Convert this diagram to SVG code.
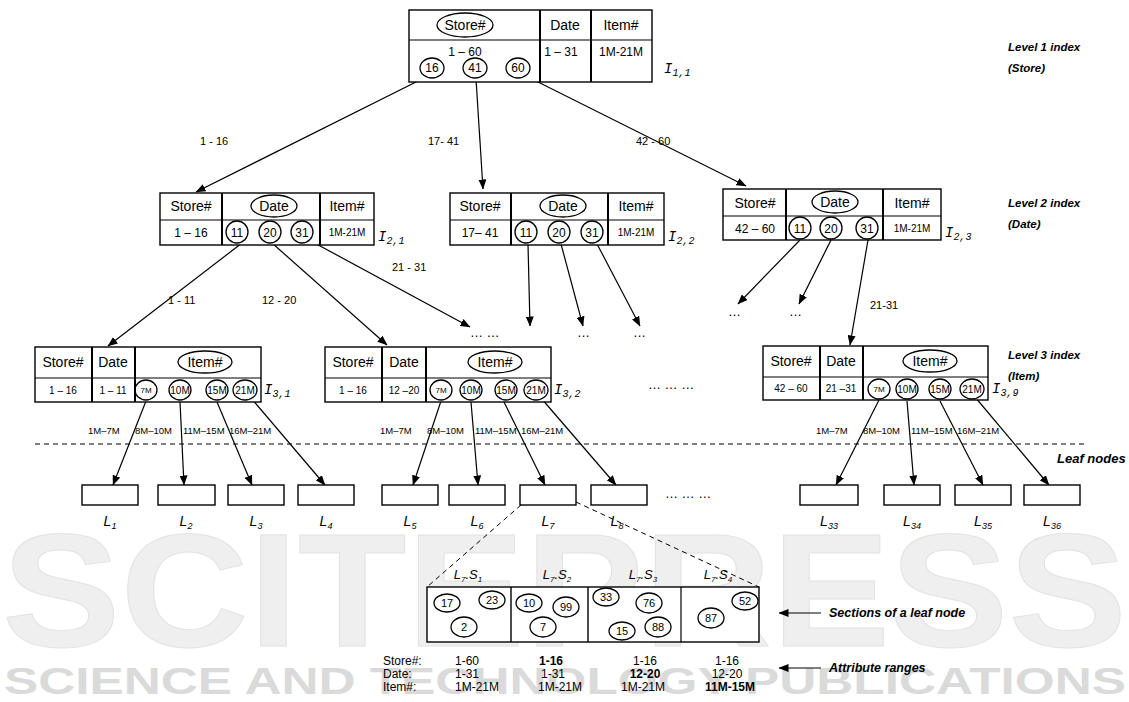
<svg xmlns="http://www.w3.org/2000/svg" width="1129" height="702" viewBox="0 0 1129 702">
<defs>
<marker id="ah" markerWidth="10" markerHeight="8" refX="9.5" refY="4" orient="auto" markerUnits="userSpaceOnUse"><path d="M0,0 L10,4 L0,8 z" fill="#000"/></marker>
<style>
.bx{fill:#fff;stroke:#000;stroke-width:1.4}
.dv{stroke:#000;stroke-width:2;fill:none}
.ln{stroke:#000;stroke-width:1.2;fill:none}
.el{fill:none;stroke:#000;stroke-width:1.3}
.t{font-family:"Liberation Sans",Arial,sans-serif;fill:#000;text-anchor:middle}
.h{font-size:14px}
.s{font-size:12px}
.xs{font-size:10px}
.lab{font-family:"Liberation Sans",Arial,sans-serif;font-size:11px;fill:#000}
.ix{font-family:"Liberation Mono","Courier New",monospace;font-style:italic;font-size:14px;fill:#000}
.lv{font-family:"Liberation Sans",Arial,sans-serif;font-style:italic;font-weight:bold;font-size:11.5px;fill:#000}
.lf{font-family:"Liberation Sans",Arial,sans-serif;font-style:italic;font-size:14px;fill:#000;text-anchor:middle}
.dots{font-family:"Liberation Sans",Arial,sans-serif;font-size:13px;fill:#000}
.arw{stroke:#000;stroke-width:1.2;fill:none;marker-end:url(#ah)}
.dash{stroke:#000;stroke-width:1;stroke-dasharray:5,4;fill:none}
.wm{font-family:"Liberation Sans",Arial,sans-serif;font-weight:bold;fill:#efefef;stroke:#e3e3e3;stroke-width:1}
.attr{font-family:"Liberation Sans",Arial,sans-serif;font-size:12px;fill:#000}
</style>
</defs>

<g id="watermark">
<text class="wm" x="2" y="646" font-size="162" textLength="1125" lengthAdjust="spacingAndGlyphs">SCITEPRESS</text>
<text class="wm" x="4" y="694" font-size="37" textLength="1122" lengthAdjust="spacingAndGlyphs" style="fill:#dadada;stroke:none">SCIENCE AND TECHNOLOGY PUBLICATIONS</text>
</g>

<g id="connectors">
<line class="arw" x1="426" y1="77" x2="196" y2="192"/>
<line class="arw" x1="476" y1="79" x2="483" y2="189"/>
<line class="arw" x1="526" y1="76" x2="746" y2="186"/>
<line class="arw" x1="242" y1="243" x2="108" y2="346"/>
<line class="arw" x1="272" y1="243" x2="387" y2="345"/>
<line class="arw" x1="309" y1="240" x2="470" y2="327"/>
<line class="arw" x1="528" y1="244" x2="530" y2="326"/>
<line class="arw" x1="561" y1="244" x2="583" y2="326"/>
<line class="arw" x1="596" y1="242" x2="640" y2="326"/>
<line class="arw" x1="800" y1="240" x2="738" y2="304"/>
<line class="arw" x1="831" y1="240" x2="799" y2="304"/>
<line class="arw" x1="868" y1="240" x2="850" y2="345"/>
<line class="arw" x1="146" y1="401" x2="113" y2="485"/>
<line class="arw" x1="180" y1="402" x2="184" y2="485"/>
<line class="arw" x1="217" y1="402" x2="252" y2="485"/>
<line class="arw" x1="251" y1="398" x2="325" y2="485"/>
<line class="arw" x1="441" y1="401" x2="413" y2="485"/>
<line class="arw" x1="471" y1="402" x2="478" y2="485"/>
<line class="arw" x1="504" y1="402" x2="545" y2="485"/>
<line class="arw" x1="541" y1="398" x2="616" y2="485"/>
<line class="arw" x1="879" y1="400" x2="836" y2="485"/>
<line class="arw" x1="907" y1="401" x2="914" y2="485"/>
<line class="arw" x1="940" y1="401" x2="983" y2="485"/>
<line class="arw" x1="975" y1="397" x2="1049" y2="485"/>
<line class="dash" x1="35" y1="444" x2="1085" y2="444"/>
<line class="dash" x1="521" y1="505" x2="427" y2="587"/>
<line class="dash" x1="576" y1="502" x2="759" y2="587"/>
<line class="arw" x1="821" y1="613" x2="779" y2="613"/>
<line class="arw" x1="821" y1="668" x2="779" y2="668"/>
<text class="lab" x="200" y="145">1 - 16</text>
<text class="lab" x="428" y="145">17- 41</text>
<text class="lab" x="636" y="145">42 - 60</text>
<text class="lab" x="168" y="304">1 - 11</text>
<text class="lab" x="262" y="304">12 - 20</text>
<text class="lab" x="392" y="271">21 - 31</text>
<text class="lab" x="870" y="309">21-31</text>
<g class="lab" style="font-size:9.5px">
<text x="88" y="434">1M–7M</text><text x="135" y="434">8M–10M</text><text x="183" y="434">11M–15M</text><text x="229" y="434">16M–21M</text>
<text x="380" y="434">1M–7M</text><text x="427" y="434">8M–10M</text><text x="475" y="434">11M–15M</text><text x="521" y="434">16M–21M</text>
<text x="816" y="434">1M–7M</text><text x="863" y="434">8M–10M</text><text x="911" y="434">11M–15M</text><text x="957" y="434">16M–21M</text>
</g>
<text class="dots" x="470" y="337">…  …</text>
<text class="dots" x="577" y="337">…</text>
<text class="dots" x="633" y="337">…</text>
<text class="dots" x="728" y="316">…</text>
<text class="dots" x="789" y="316">…</text>
<text class="dots" x="648" y="389">…  …  …</text>
<text class="dots" x="665" y="498">…  …  …</text>
</g>

<g id="I11">
<rect class="bx" x="409" y="10" width="243" height="72"/>
<line class="ln" x1="409" y1="40" x2="652" y2="40"/>
<line class="dv" x1="540" y1="10" x2="540" y2="82"/>
<line class="dv" x1="591" y1="10" x2="591" y2="82"/>
<ellipse class="el" cx="465" cy="25" rx="28" ry="12"/>
<text class="t h" x="465" y="30">Store#</text>
<text class="t h" x="565" y="30">Date</text>
<text class="t h" x="621" y="30">Item#</text>
<text class="t s" x="465" y="56">1 – 60</text>
<text class="t s" x="561" y="56">1 – 31</text>
<text class="t s" x="621" y="56">1M-21M</text>
<ellipse class="el" cx="432" cy="68" rx="12" ry="10"/><text class="t s" x="432" y="72">16</text>
<ellipse class="el" cx="475" cy="68" rx="12" ry="10"/><text class="t s" x="475" y="72">41</text>
<ellipse class="el" cx="518" cy="68" rx="12" ry="10"/><text class="t s" x="518" y="72">60</text>
<text class="ix" x="664" y="73">I<tspan font-size="10" dy="3">1,1</tspan></text>
</g>

<g id="I21">
<rect class="bx" x="160" y="193" width="214" height="52"/>
<line class="ln" x1="160" y1="220" x2="374" y2="220"/>
<line class="dv" x1="222" y1="193" x2="222" y2="245"/>
<line class="dv" x1="320" y1="193" x2="320" y2="245"/>
<text class="t h" x="191" y="211">Store#</text>
<ellipse class="el" cx="274" cy="206" rx="23" ry="11"/>
<text class="t h" x="274" y="211">Date</text>
<text class="t h" x="347" y="211">Item#</text>
<text class="t s" x="191" y="237">1 – 16</text>
<ellipse class="el" cx="237" cy="232" rx="11" ry="11"/><text class="t s" x="237" y="237">11</text>
<ellipse class="el" cx="270" cy="232" rx="11" ry="11"/><text class="t s" x="270" y="237">20</text>
<ellipse class="el" cx="302" cy="232" rx="11" ry="11"/><text class="t s" x="302" y="237">31</text>
<text class="t xs" x="347" y="236">1M-21M</text>
<text class="ix" x="378" y="241">I<tspan font-size="10" dy="3">2,1</tspan></text>
</g>

<g id="I22">
<rect class="bx" x="450" y="193" width="214" height="52"/>
<line class="ln" x1="450" y1="220" x2="664" y2="220"/>
<line class="dv" x1="511" y1="193" x2="511" y2="245"/>
<line class="dv" x1="608" y1="193" x2="608" y2="245"/>
<text class="t h" x="480" y="211">Store#</text>
<ellipse class="el" cx="563" cy="206" rx="23" ry="11"/>
<text class="t h" x="563" y="211">Date</text>
<text class="t h" x="636" y="211">Item#</text>
<text class="t s" x="480" y="237">17– 41</text>
<ellipse class="el" cx="526" cy="232" rx="11" ry="11"/><text class="t s" x="526" y="237">11</text>
<ellipse class="el" cx="559" cy="232" rx="11" ry="11"/><text class="t s" x="559" y="237">20</text>
<ellipse class="el" cx="592" cy="232" rx="11" ry="11"/><text class="t s" x="592" y="237">31</text>
<text class="t xs" x="636" y="236">1M-21M</text>
<text class="ix" x="668" y="241">I<tspan font-size="10" dy="3">2,2</tspan></text>
</g>

<g id="I23">
<rect class="bx" x="723" y="189" width="218" height="51"/>
<line class="ln" x1="723" y1="216" x2="941" y2="216"/>
<line class="dv" x1="786" y1="189" x2="786" y2="240"/>
<line class="dv" x1="883" y1="189" x2="883" y2="240"/>
<text class="t h" x="755" y="208">Store#</text>
<ellipse class="el" cx="835" cy="202" rx="23" ry="11"/>
<text class="t h" x="835" y="207">Date</text>
<text class="t h" x="912" y="208">Item#</text>
<text class="t s" x="755" y="233">42 – 60</text>
<ellipse class="el" cx="800" cy="228" rx="11" ry="11"/><text class="t s" x="800" y="233">11</text>
<ellipse class="el" cx="831" cy="228" rx="11" ry="11"/><text class="t s" x="831" y="233">20</text>
<ellipse class="el" cx="867" cy="228" rx="11" ry="11"/><text class="t s" x="867" y="233">31</text>
<text class="t xs" x="912" y="232">1M-21M</text>
<text class="ix" x="945" y="237">I<tspan font-size="10" dy="3">2,3</tspan></text>
</g>

<g id="I31">
<rect class="bx" x="35" y="347" width="226" height="55"/>
<line class="ln" x1="35" y1="378" x2="261" y2="378"/>
<line class="dv" x1="92" y1="347" x2="92" y2="402"/>
<line class="dv" x1="135" y1="347" x2="135" y2="402"/>
<text class="t h" x="63" y="367">Store#</text>
<text class="t h" x="113" y="367">Date</text>
<ellipse class="el" cx="205" cy="362" rx="27" ry="11"/>
<text class="t h" x="205" y="367">Item#</text>
<text class="t xs" x="63" y="394">1 – 16</text>
<text class="t xs" x="113" y="394">1 – 11</text>
<ellipse class="el" cx="146" cy="390" rx="11" ry="10"/><text class="t" style="font-size:8px" x="146" y="393">7M</text>
<ellipse class="el" cx="180" cy="390" rx="11" ry="10"/><text class="t xs" x="180" y="394">10M</text>
<ellipse class="el" cx="217" cy="390" rx="11" ry="10"/><text class="t xs" x="217" y="394">15M</text>
<ellipse class="el" cx="245" cy="390" rx="12" ry="10"/><text class="t xs" x="245" y="394">21M</text>
<text class="ix" x="264" y="394">I<tspan font-size="10" dy="3">3,1</tspan></text>
</g>

<g id="I32">
<rect class="bx" x="325" y="347" width="226" height="55"/>
<line class="ln" x1="325" y1="378" x2="551" y2="378"/>
<line class="dv" x1="382" y1="347" x2="382" y2="402"/>
<line class="dv" x1="426" y1="347" x2="426" y2="402"/>
<text class="t h" x="353" y="367">Store#</text>
<text class="t h" x="404" y="367">Date</text>
<ellipse class="el" cx="495" cy="362" rx="27" ry="11"/>
<text class="t h" x="495" y="367">Item#</text>
<text class="t xs" x="353" y="394">1 – 16</text>
<text class="t xs" x="404" y="394">12 –20</text>
<ellipse class="el" cx="441" cy="390" rx="11" ry="10"/><text class="t" style="font-size:8px" x="441" y="393">7M</text>
<ellipse class="el" cx="471" cy="390" rx="11" ry="10"/><text class="t xs" x="471" y="394">10M</text>
<ellipse class="el" cx="506" cy="390" rx="11" ry="10"/><text class="t xs" x="506" y="394">15M</text>
<ellipse class="el" cx="536" cy="390" rx="12" ry="10"/><text class="t xs" x="536" y="394">21M</text>
<text class="ix" x="554" y="394">I<tspan font-size="10" dy="3">3,2</tspan></text>
</g>

<g id="I39">
<rect class="bx" x="763" y="346" width="225" height="54"/>
<line class="ln" x1="763" y1="377" x2="988" y2="377"/>
<line class="dv" x1="820" y1="346" x2="820" y2="400"/>
<line class="dv" x1="863" y1="346" x2="863" y2="400"/>
<text class="t h" x="791" y="366">Store#</text>
<text class="t h" x="841" y="366">Date</text>
<ellipse class="el" cx="930" cy="361" rx="27" ry="11"/>
<text class="t h" x="930" y="366">Item#</text>
<text class="t xs" x="791" y="392">42 – 60</text>
<text class="t xs" x="841" y="392">21 –31</text>
<ellipse class="el" cx="879" cy="389" rx="11" ry="10"/><text class="t" style="font-size:8px" x="879" y="392">7M</text>
<ellipse class="el" cx="907" cy="389" rx="11" ry="10"/><text class="t xs" x="907" y="393">10M</text>
<ellipse class="el" cx="940" cy="389" rx="11" ry="10"/><text class="t xs" x="940" y="393">15M</text>
<ellipse class="el" cx="972" cy="389" rx="12" ry="10"/><text class="t xs" x="972" y="393">21M</text>
<text class="ix" x="992" y="393">I<tspan font-size="10" dy="3">3,9</tspan></text>
</g>

<g id="levels">
<text class="lv" x="1008" y="51">Level 1 index</text>
<text class="lv" x="1008" y="72">(Store)</text>
<text class="lv" x="1008" y="207">Level 2 index</text>
<text class="lv" x="1008" y="228"> (Date)</text>
<text class="lv" x="1008" y="359">Level 3 index</text>
<text class="lv" x="1008" y="380">(Item)</text>
<text class="lv" x="1057" y="463" style="font-size:13px">Leaf nodes</text>
</g>

<g id="leaves">
<g id="L1"><rect class="bx" x="82" y="485" width="56" height="20"/><text class="lf" x="110" y="526">L<tspan font-size="9" dy="3">1</tspan></text></g>
<g id="L2"><rect class="bx" x="158" y="485" width="57" height="20"/><text class="lf" x="186" y="526">L<tspan font-size="9" dy="3">2</tspan></text></g>
<g id="L3"><rect class="bx" x="228" y="485" width="56" height="20"/><text class="lf" x="256" y="526">L<tspan font-size="9" dy="3">3</tspan></text></g>
<g id="L4"><rect class="bx" x="298" y="485" width="56" height="20"/><text class="lf" x="326" y="526">L<tspan font-size="9" dy="3">4</tspan></text></g>
<g id="L5"><rect class="bx" x="382" y="485" width="56" height="20"/><text class="lf" x="410" y="526">L<tspan font-size="9" dy="3">5</tspan></text></g>
<g id="L6"><rect class="bx" x="449" y="485" width="56" height="20"/><text class="lf" x="477" y="526">L<tspan font-size="9" dy="3">6</tspan></text></g>
<g id="L7"><rect class="bx" x="520" y="485" width="56" height="20"/><text class="lf" x="548" y="526">L<tspan font-size="9" dy="3">7</tspan></text></g>
<g id="L8"><rect class="bx" x="591" y="485" width="56" height="20"/><text class="lf" x="617" y="526">L<tspan font-size="9" dy="3">8</tspan></text></g>
<g id="L33"><rect class="bx" x="800" y="485" width="58" height="20"/><text class="lf" x="829" y="526">L<tspan font-size="9" dy="3">33</tspan></text></g>
<g id="L34"><rect class="bx" x="884" y="485" width="56" height="20"/><text class="lf" x="912" y="526">L<tspan font-size="9" dy="3">34</tspan></text></g>
<g id="L35"><rect class="bx" x="955" y="485" width="56" height="20"/><text class="lf" x="983" y="526">L<tspan font-size="9" dy="3">35</tspan></text></g>
<g id="L36"><rect class="bx" x="1024" y="485" width="56" height="20"/><text class="lf" x="1052" y="526">L<tspan font-size="9" dy="3">36</tspan></text></g>
</g>

<g id="sections">
<rect class="bx" x="427" y="587" width="332" height="55"/>
<line class="dv" x1="511" y1="587" x2="511" y2="642" style="stroke-width:1.4"/>
<line class="dv" x1="588" y1="587" x2="588" y2="642" style="stroke-width:1.4"/>
<line class="ln" x1="681" y1="587" x2="681" y2="642"/>
<text class="lf" style="font-size:13px" x="468" y="579">L<tspan font-size="8" dy="3">7</tspan><tspan dy="-3">.S</tspan><tspan font-size="8" dy="3">1</tspan></text>
<text class="lf" style="font-size:13px" x="557" y="579">L<tspan font-size="8" dy="3">7</tspan><tspan dy="-3">.S</tspan><tspan font-size="8" dy="3">2</tspan></text>
<text class="lf" style="font-size:13px" x="643" y="579">L<tspan font-size="8" dy="3">7</tspan><tspan dy="-3">.S</tspan><tspan font-size="8" dy="3">3</tspan></text>
<text class="lf" style="font-size:13px" x="718" y="579">L<tspan font-size="8" dy="3">7</tspan><tspan dy="-3">.S</tspan><tspan font-size="8" dy="3">4</tspan></text>
<g style="font-size:11px">
<ellipse class="el" cx="447" cy="603" rx="13" ry="9"/><text class="t" x="447" y="607">17</text>
<ellipse class="el" cx="492" cy="600" rx="13" ry="9"/><text class="t" x="492" y="604">23</text>
<ellipse class="el" cx="464" cy="627" rx="13" ry="10"/><text class="t" x="464" y="631">2</text>
<ellipse class="el" cx="529" cy="603" rx="13" ry="9"/><text class="t" x="529" y="607">10</text>
<ellipse class="el" cx="566" cy="607" rx="13" ry="10"/><text class="t" x="566" y="611">99</text>
<ellipse class="el" cx="543" cy="627" rx="13" ry="10"/><text class="t" x="543" y="631">7</text>
<ellipse class="el" cx="606" cy="597" rx="13" ry="9"/><text class="t" x="606" y="601">33</text>
<ellipse class="el" cx="649" cy="603" rx="13" ry="10"/><text class="t" x="649" y="607">76</text>
<ellipse class="el" cx="622" cy="631" rx="13" ry="9"/><text class="t" x="622" y="635">15</text>
<ellipse class="el" cx="658" cy="627" rx="13" ry="10"/><text class="t" x="658" y="631">88</text>
<ellipse class="el" cx="711" cy="618" rx="13" ry="10"/><text class="t" x="711" y="622">87</text>
<ellipse class="el" cx="745" cy="601" rx="13" ry="9"/><text class="t" x="745" y="605">52</text>
</g>
<text class="lv" x="829" y="617" style="font-size:12.5px">Sections of a leaf  node</text>
</g>

<g id="ranges">
<text class="attr" x="383" y="665">Store#:</text>
<text class="attr" x="383" y="678">Date:</text>
<text class="attr" x="383" y="691">Item#:</text>
<g class="attr" text-anchor="middle">
<text x="467" y="665">1-60</text><text x="551" y="665" font-weight="bold">1-16</text><text x="645" y="665">1-16</text><text x="727" y="665">1-16</text>
<text x="467" y="678">1-31</text><text x="553" y="678">1-31</text><text x="645" y="678" font-weight="bold">12-20</text><text x="727" y="678">12-20</text>
<text x="477" y="691">1M-21M</text><text x="560" y="691">1M-21M</text><text x="643" y="691">1M-21M</text><text x="730" y="691" font-weight="bold">11M-15M</text>
</g>
<text class="lv" x="829" y="672" style="font-size:12.5px">Attribute ranges</text>
</g>
</svg>
